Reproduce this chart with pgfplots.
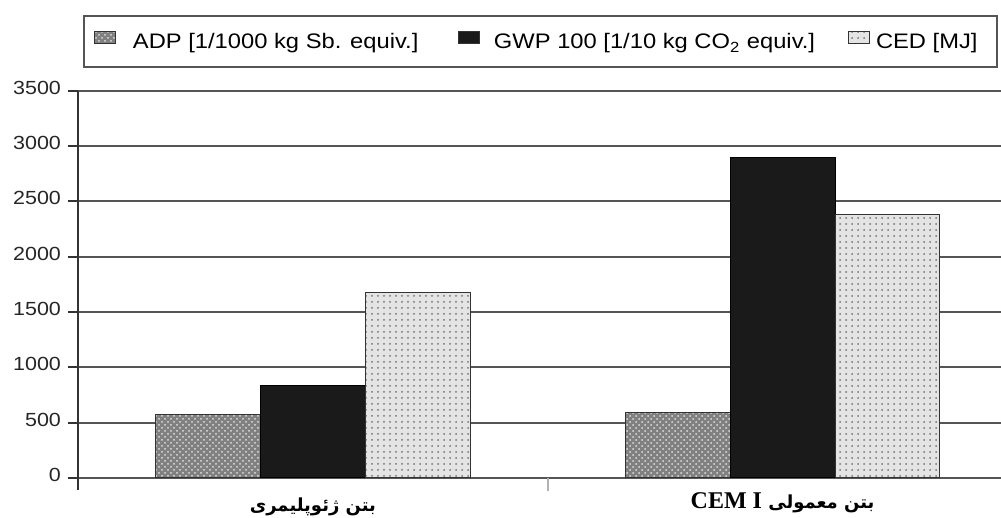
\documentclass[border=0pt]{standalone}
\usepackage{fontspec}
\setmainfont{Liberation Sans}[FakeStretch=1.13]
\newfontfamily\arabicfont[Script=Arabic]{DejaVu Sans}
\newfontfamily\serifont{Liberation Serif}
\TeXXeTstate=1
\usepackage{pgfplots}
\pgfplotsset{compat=1.18}
\usetikzlibrary{patterns}
\definecolor{gridgray}{HTML}{555555}
\definecolor{adpgray}{HTML}{808080}
\definecolor{gwpblack}{HTML}{1A1A1A}
\definecolor{cedlight}{HTML}{E4E4E4}
\begin{document}
\begin{tikzpicture}
\path[use as bounding box] (0,0) rectangle (500.5pt,259pt);
\begin{axis}[
    at={(39pt,20pt)}, anchor=south west,
    scale only axis, width=461.5pt, height=193.65pt,
    xmin=-0.5, xmax=1.465, ymin=0, ymax=3500,
    axis y line*=left, axis x line*=bottom,
    y axis line style={draw=black!80, line width=1pt, shorten <=-6pt},
    x axis line style={draw=gridgray, line width=1pt},
    ytick={0,500,...,3500},
    ymajorgrids, grid style={draw=gridgray, line width=1pt},
    tick align=outside, major tick length=5pt,
    ytick style={draw=black!80, line width=1pt},
    /pgf/number format/assume math mode=true,
    /pgf/number format/1000 sep={},
    yticklabel style={font=\fontsize{9.5}{11}\selectfont, text=black!85, yshift=1.5pt},
    xtick={0,1},
    xticklabels={
      {\arabicfont\bfseries\fontsize{9}{11}\selectfont\beginR بتن ژئوپلیمری\endR},
      {\raisebox{1.5pt}{\arabicfont\bfseries\fontsize{9}{11}\selectfont\beginR بتن معمولی \beginL{\serifont\bfseries\fontsize{12}{14}\selectfont CEM I}\endL\endR}}},
    xticklabel style={anchor=base, yshift=-12pt},
    xtick style={draw=none},
    extra x ticks={0.5}, extra x tick labels={},
    extra x tick style={xtick style={draw=gray!60, line width=1pt}, major tick length=6.5pt},
    legend columns=3,
    legend image code/.code={\draw[#1, line width=0.5pt, draw=black!80] (0pt,-1.25pt) rectangle (10.5pt,4.75pt);},
    legend style={at={([xshift=2.5pt,yshift=37.85pt]axis description cs:0,1)}, anchor=north west,
      draw=gridgray, line width=1pt, fill=white, inner xsep=5pt, inner ysep=6.5pt,
      column sep=0pt, cells={anchor=center},
      nodes={inner sep=0pt, text height=10pt, text depth=2.5pt},
      font=\fontsize{10.5}{12}\selectfont},
]
\addplot[ybar, bar width=0.2234, bar shift=-0.2234, fill=adpgray, draw=black!80, line width=0.5pt,
  postaction={pattern=crosshatch dots, pattern color=white!75!gray}]
  coordinates {(0,570) (1,590)};
\addplot[ybar, bar width=0.2234, bar shift=0, fill=gwpblack, draw=black, line width=0.5pt]
  coordinates {(0,840) (1,2900)};
\addplot[ybar, bar width=0.2234, bar shift=0.2234, fill=cedlight, draw=black!80, line width=0.5pt,
  postaction={pattern=dots, pattern color=gray!90!black}]
  coordinates {(0,1680) (1,2380)};
\addlegendentry{\makebox[171pt][l]{\hspace{8.5pt}ADP [1/1000 kg Sb. equiv.]}}
\addlegendentry{\makebox[184pt][l]{\hspace{7pt}GWP 100 [1/10 kg CO\textsubscript{2} equiv.]}}
\addlegendentry{\makebox[58.5pt][l]{\hspace{3pt}CED [MJ]}}
\end{axis}
\end{tikzpicture}
\end{document}
